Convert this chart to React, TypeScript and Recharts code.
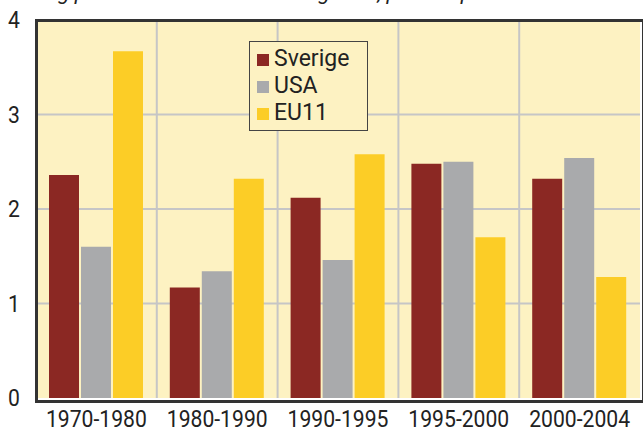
import { Bar, BarChart, CartesianGrid, XAxis, YAxis } from 'recharts'

const periods = ['1970-1980', '1980-1990', '1990-1995', '1995-2000', '2000-2004']
const sverige = [2.36, 1.17, 2.12, 2.48, 2.32]
const usa = [1.6, 1.34, 1.46, 2.5, 2.54]
const eu11 = [3.67, 2.32, 2.58, 1.7, 1.28]
const yTicks = [0, 1, 2, 3, 4]

const seriesInfo = [
  { key: 'sverige', name: 'Sverige', color: '#8b2823' },
  { key: 'usa', name: 'USA', color: '#a9aaac' },
  { key: 'eu11', name: 'EU11', color: '#fccd26' },
]

const data = periods.map((p, i) => ({
  period: p,
  sverige: sverige[i],
  usa: usa[i],
  eu11: eu11[i],
}))

const W = 643
const H = 432
const M = { top: 20, right: 3, bottom: 0, left: 0 }
const Y_W = 36
const X_H = 34
const plotLeft = M.left + Y_W
const plotWidth = W - plotLeft - M.right
const plotTop = M.top
const plotHeight = H - M.top - X_H

const font = 'Roboto, "Open Sans", sans-serif'
const bg = '#fdf2c2'

// narrow tick text, the original uses a condensed face
function XTick({ x, y, payload }: any) {
  return (
    <g transform={`translate(${x},${y + 21}) scale(0.92,1)`}>
      <text textAnchor="middle" fontFamily={font} fontSize={23} fill="#222">
        {payload.value}
      </text>
    </g>
  )
}

function YTick({ x, y, payload }: any) {
  return (
    <g transform={`translate(${x},${y + 8}) scale(0.92,1)`}>
      <text textAnchor="end" fontFamily={font} fontSize={23} fill="#222">
        {payload.value}
      </text>
    </g>
  )
}

function LegendBox() {
  return (
    <div
      style={{
        position: 'absolute',
        left: 249,
        top: 41,
        width: 119,
        height: 90,
        boxSizing: 'border-box',
        border: '1.5px solid #444',
        background: bg,
        padding: '3px 0 0 7px',
        fontFamily: font,
        fontSize: 23,
        lineHeight: '27px',
        color: '#222',
      }}
    >
      {seriesInfo.map((s) => (
        <div key={s.key} style={{ display: 'flex', alignItems: 'center' }}>
          <span
            style={{
              display: 'inline-block',
              width: 12,
              height: 12,
              background: s.color,
              marginRight: 5,
              marginTop: 3,
            }}
          />
          <span>{s.name}</span>
        </div>
      ))}
    </div>
  )
}

export default function App() {
  return (
    <div style={{ position: 'absolute', left: 0, top: 0, width: W, height: H, background: '#fff' }}>
      <div
        style={{
          position: 'absolute',
          left: 28,
          top: -19,
          fontFamily: font,
          fontStyle: 'italic',
          fontSize: 21,
          lineHeight: '24px',
          color: '#222',
          whiteSpace: 'nowrap',
        }}
      >
        Årlig produktivitetstillväxt i näringslivet, procent per år
      </div>
      <BarChart width={W} height={H} data={data} margin={M} barSize={30} barGap={2}>
        <CartesianGrid
          fill={bg}
          stroke="#c6c6c6"
          strokeWidth={2}
          horizontalValues={[1, 2, 3]}
          verticalCoordinatesGenerator={() =>
            [1, 2, 3, 4].map((i) => plotLeft + (plotWidth * i) / periods.length)
          }
        />
        <XAxis
          dataKey="period"
          height={X_H}
          tickLine={false}
          axisLine={false}
          tick={<XTick />}
          interval={0}
        />
        <YAxis
          width={Y_W}
          domain={[0, 4]}
          ticks={yTicks}
          tickLine={false}
          axisLine={false}
          tickMargin={10}
          tick={<YTick />}
        />
        {seriesInfo.map((s) => (
          <Bar key={s.key} dataKey={s.key} name={s.name} fill={s.color} isAnimationActive={false} />
        ))}
      </BarChart>
      <div
        style={{
          position: 'absolute',
          left: plotLeft - 1.5,
          top: plotTop - 1.5,
          width: plotWidth,
          height: plotHeight,
          border: '3px solid #333',
          pointerEvents: 'none',
        }}
      />
      <LegendBox />
    </div>
  )
}
